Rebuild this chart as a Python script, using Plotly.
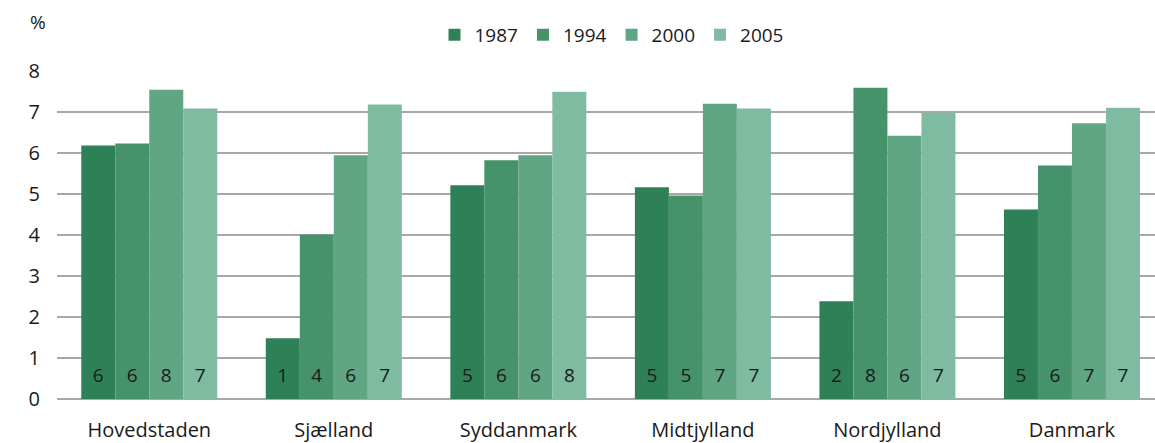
import plotly.graph_objects as go

regions = ['Hovedstaden', 'Sjælland', 'Syddanmark', 'Midtjylland', 'Nordjylland', 'Danmark']
years = ['1987', '1994', '2000', '2005']
colors = ['#2e8157', '#46936b', '#60a584', '#7fbba0']

v1987 = [6.18, 1.48, 5.21, 5.16, 2.38, 4.62]
v1994 = [6.23, 4.01, 5.82, 4.96, 7.59, 5.69]
v2000 = [7.54, 5.94, 5.94, 7.20, 6.42, 6.72]
v2005 = [7.08, 7.18, 7.49, 7.08, 6.98, 7.10]
ranks = [
    ['6', '1', '5', '5', '2', '5'],
    ['6', '4', '6', '5', '8', '6'],
    ['8', '6', '6', '7', '6', '7'],
    ['7', '7', '8', '7', '7', '7'],
]
series = [v1987, v1994, v2000, v2005]

font = 'Open Sans'
gap = 0.263

fig = go.Figure()
for i, yr in enumerate(years):
    fig.add_trace(go.Bar(x=regions, y=series[i], name=yr, marker=dict(color=colors[i], line=dict(width=0)),
                         offsetgroup=str(i)))
# rank labels near the bottom of each bar
for i, yr in enumerate(years):
    fig.add_trace(go.Scatter(x=regions, y=[0.54] * len(regions), mode='text', text=ranks[i],
                             textfont=dict(size=19, color='#1a1a1a', family=font),
                             offsetgroup=str(i), showlegend=False, hoverinfo='skip'))

fig.add_annotation(text='%', xref='paper', yref='paper', x=-0.017, y=1.146,
                   xanchor='center', yanchor='middle',
                   showarrow=False, font=dict(size=19, color='#1a1a1a', family=font))

fig.update_layout(
    width=1155, height=443,
    margin=dict(l=57, r=0, t=70, b=44, autoexpand=False),
    paper_bgcolor='white', plot_bgcolor='white',
    barmode='group', bargap=gap, bargroupgap=0,
    scattermode='group', scattergap=gap,
    font=dict(family=font, size=20, color='#1a1a1a'),
    legend=dict(orientation='h', x=0.505, xanchor='center', yref='container', y=1 - 35 / 443, yanchor='middle',
                font=dict(size=19), itemwidth=30, traceorder='normal'),
    showlegend=True,
)
fig.update_xaxes(range=[-0.5, 5.45], showgrid=False, showline=False, ticks='', ticklabelstandoff=17,
                 tickfont=dict(size=20), automargin=False)
fig.update_yaxes(range=[0, 8.02], dtick=1, showgrid=True, gridcolor='#a8a8a8', gridwidth=2,
                 zeroline=True, zerolinecolor='#a8a8a8', zerolinewidth=2, ticks='', ticklabelstandoff=16,
                 tickfont=dict(size=20), automargin=False)

# remove the default page margin so the figure sits at the window's corner
fig.write_html("out.html", config={'displayModeBar': False},
               post_script="document.body.style.margin='0';document.body.style.overflow='hidden';")
